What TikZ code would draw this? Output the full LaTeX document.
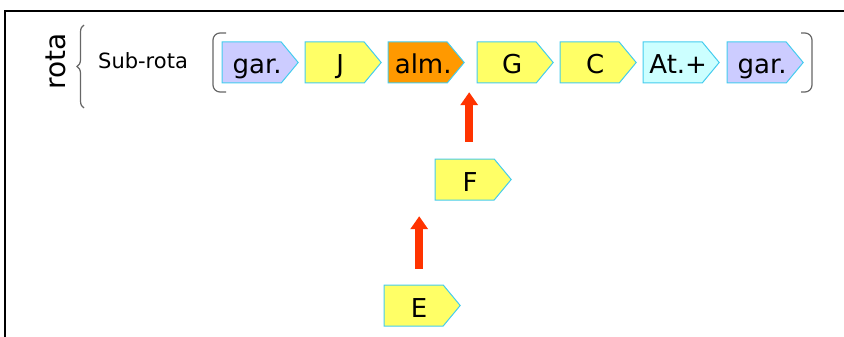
\documentclass[tikz,border=0pt]{standalone}
\usepackage{fontspec}
\setmainfont{DejaVu Sans}
\usetikzlibrary{arrows.meta,decorations.pathreplacing,calc}
\definecolor{lav}{HTML}{CCCCFF}
\definecolor{yel}{HTML}{FFFF66}
\definecolor{org}{HTML}{FF9900}
\definecolor{cya}{HTML}{CCFFFF}
\definecolor{bord}{HTML}{44CCEE}
\definecolor{arrred}{HTML}{FF3300}
\definecolor{brk}{HTML}{666666}
\tikzset{
  pbox/.style={minimum width=78pt, minimum height=43pt, inner sep=0pt, anchor=west,
    font=\fontsize{26}{31}\selectfont, text height=28pt, text depth=5pt,
    execute at end node={\hspace*{6pt}},
    path picture={
      \path[fill=#1, draw=bord, line width=1pt]
        ([shift={(1pt,-1pt)}]path picture bounding box.north west)
        -- ([shift={(-18pt,-1pt)}]path picture bounding box.north east)
        -- ([xshift=-1pt]path picture bounding box.east)
        -- ([shift={(-18pt,1pt)}]path picture bounding box.south east)
        -- ([shift={(1pt,1pt)}]path picture bounding box.south west) -- cycle;
    }},
  redarrow/.style={draw=arrred, line width=8pt, -{Triangle[width=17pt,length=13pt]}},
  bracketline/.style={draw=brk, line width=1.2pt, rounded corners=7pt},
}
\begin{document}
\begin{tikzpicture}[x=1pt,y=-1pt]
\useasboundingbox (0,0) rectangle (844,337);
% frame
\draw[line width=2pt] (5,337) -- (5,11) -- (844,11);
% labels
\node[rotate=90, font=\fontsize{28}{34}\selectfont] (rota) at (56,61) {rota};
\draw[draw=brk, line width=1.2pt, decorate, decoration={brace, amplitude=7pt}] (84,108) -- (84,25);
\node[font=\fontsize{21}{25}\selectfont] (sub) at (143,61) {Sub-rota};
% brackets
\draw[bracketline] (226,33) -- (213,33) -- (213,92) -- (226,92);
\draw[bracketline] (801,33) -- (812,33) -- (812,92) -- (801,92);
% boxes
\node[pbox=lav] (gar1) at (221,62.5) {gar.};
\node[pbox=yel] (J) at (304,62.5) {J};
\node[pbox=org] (alm) at (387,62.5) {alm.};
\node[pbox=yel] (G) at (476,62.5) {G};
\node[pbox=yel] (C) at (559,62.5) {C};
\node[pbox=cya] (At) at (642,62.5) {At.+};
\node[pbox=lav] (gar2) at (726,62.5) {gar.};
\node[pbox=yel] (F) at (434,179.5) {F};
\node[pbox=yel] (E) at (383,305.5) {E};
% arrows
\coordinate (gap) at ($(alm.south east)!0.5!(G.south west)$);
\coordinate (f0) at ([xshift=-4pt,yshift=16pt]F.north);
\coordinate (gapend) at ([yshift=-8pt]gap);
\draw[redarrow] (f0) -- (f0 |- gapend);
\coordinate (e0) at ([xshift=-3pt,yshift=15pt]E.north);
\coordinate (f1) at ([yshift=-15pt]F.south);
\draw[redarrow] (e0) -- (e0 |- f1);
\end{tikzpicture}
\end{document}
